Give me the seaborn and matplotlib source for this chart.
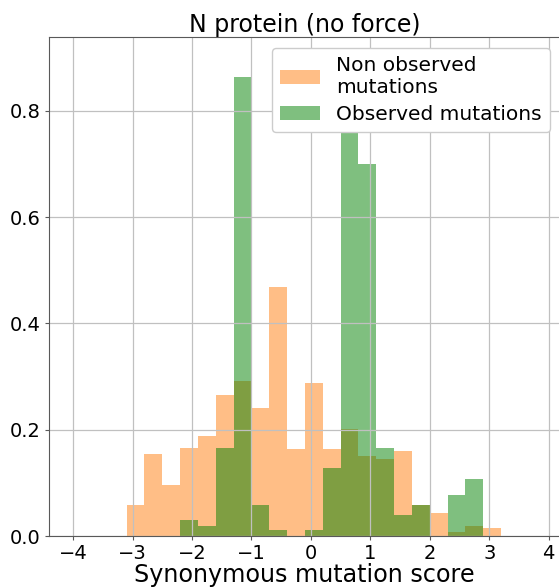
import numpy as np
import pandas as pd
import seaborn as sns
import matplotlib.pyplot as plt

# shared bin edges, width 0.3
edges = [round(-3.1 + 0.3 * i, 2) for i in range(22)]
centers = [(a + b) / 2 for a, b in zip(edges[:-1], edges[1:])]

# density per bin
non_observed = [0.059, 0.154, 0.095, 0.166, 0.189, 0.266, 0.292, 0.241, 0.468, 0.163, 0.287,
                0.163, 0.202, 0.151, 0.144, 0.159, 0.059, 0.044, 0.007, 0.018, 0.0145]
observed = [0.0, 0.0, 0.0, 0.030, 0.0195, 0.166, 0.864, 0.059, 0.011, 0.0, 0.011,
            0.127, 0.893, 0.699, 0.166, 0.040, 0.059, 0.0, 0.078, 0.107, 0.0]

df = pd.DataFrame({"score": centers, "non_obs": non_observed, "obs": observed})

fig = plt.figure(figsize=(5.59, 5.88), dpi=100)
ax = fig.add_axes([49.3 / 559, 52 / 588, (560 - 49.3) / 559, (536 - 37.3) / 588])

sns.histplot(data=df, x="score", weights="non_obs", bins=edges, stat="count",
             color="tab:orange", alpha=0.5, linewidth=0, label="Non observed\nmutations", ax=ax)
sns.histplot(data=df, x="score", weights="obs", bins=edges, stat="count",
             color="green", alpha=0.5, linewidth=0, label="Observed mutations", ax=ax)

ax.set_xlim(-4.4, 4.19)
ax.set_ylim(0, 0.938)
ax.set_xticks(range(-4, 5))
ax.set_yticks([0.0, 0.2, 0.4, 0.6, 0.8])
ax.grid(True, color="#c0c0c0", linewidth=0.9)
for s in ax.spines.values():
    s.set_color("0.35")
ax.tick_params(labelsize=14, color="0.35", length=3, pad=3)
ax.set_xlabel("Synonymous mutation score", fontsize=17.2, labelpad=0)
ax.set_ylabel("")
ax.set_title("N protein (no force)", fontsize=17, pad=4)
ax.legend(loc="upper right", bbox_to_anchor=(0.9804, 0.9785), borderaxespad=0, fontsize=14.5,
          framealpha=1.0, labelspacing=0.4, handlelength=2.0)

plt.savefig("out.png", dpi=100)
